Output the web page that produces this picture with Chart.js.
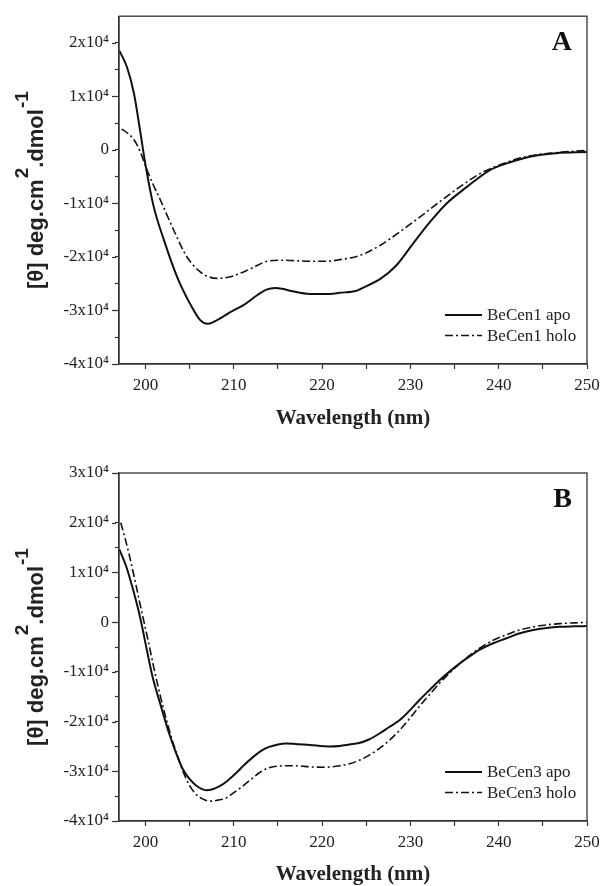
<!DOCTYPE html>
<html>
<head>
<meta charset="utf-8">
<script src="https://cdn.jsdelivr.net/npm/chart.js@4.4.0/dist/chart.umd.min.js"></script>
<style>
html, body { margin: 0; padding: 0; background: #fff; }
#wrap { position: relative; width: 603px; height: 886px; overflow: hidden; }
.panel { position: absolute; left: 0; width: 603px; }
</style>
</head>
<body>
<div id="wrap">
  <div class="panel" style="top:0"><canvas id="chartA" width="603" height="440"></canvas></div>
  <div class="panel" style="top:440px"><canvas id="chartB" width="603" height="456"></canvas></div>
</div>
<script>
// panel A - BeCen1
var wlApoA = [197.05,197.9,198.7,199.4,200.0,200.9,202.1,203.6,205.1,206.2,207.0,208.1,209.6,211.1,212.6,213.7,214.7,215.6,216.4,218.6,220.9,222.0,223.9,225.2,226.6,228.4,230.3,232.2,234.1,236.4,239.0,240.9,243.5,246.5,250.0];
var apoA = [18500,15500,10500,3500,-2800,-10400,-16900,-23800,-28900,-31800,-32500,-31800,-30300,-29000,-27200,-26100,-25800,-26000,-26300,-26900,-26900,-26700,-26300,-25300,-24100,-21600,-17500,-13500,-10000,-6900,-3750,-2500,-1250,-600,-400];
var wlHoloA = [197.3,198.0,198.7,199.4,200.0,200.8,201.7,203.2,204.7,206.2,207.0,208.1,209.0,210.0,211.9,213.8,215.6,218.6,220.5,222.0,224.3,226.6,228.8,231.1,233.3,235.6,237.9,240.1,243.1,246.5,250.0];
var holoA = [3900,3100,1900,-300,-3000,-6200,-9400,-15000,-20000,-22800,-23600,-24000,-23900,-23500,-22200,-20800,-20600,-20800,-20800,-20500,-19700,-17800,-15300,-12500,-9700,-6900,-4400,-2800,-1250,-500,-100];

// panel B - BeCen3
var wlApoB = [197.05,197.8,198.6,199.4,200.2,200.8,201.6,202.7,203.5,204.2,205.0,205.7,206.4,206.9,207.6,208.4,209.3,210.3,211.2,212.2,213.1,214.0,215.0,215.9,217.0,218.6,220.8,222.0,223.1,224.2,225.3,226.5,227.6,228.8,229.9,231.0,232.2,233.3,234.4,235.6,236.7,237.8,239.3,240.8,242.3,243.9,245.4,246.9,248.5,250.0];
var apoB = [14600,11300,6500,900,-6000,-11000,-16000,-22500,-26500,-29500,-31600,-32800,-33600,-33800,-33600,-33000,-31900,-30300,-28700,-27100,-25900,-25100,-24600,-24400,-24500,-24700,-25000,-24900,-24600,-24300,-23600,-22400,-21100,-19700,-17800,-15700,-13600,-11700,-10000,-8300,-6900,-5600,-4300,-3300,-2300,-1600,-1200,-950,-850,-800];
var wlHoloB = [197.2,197.7,198.2,198.8,199.3,199.8,200.3,200.9,201.5,202.2,202.9,203.6,204.2,205.0,205.7,206.5,207.4,208.2,209.1,210.0,211.0,211.9,212.9,213.8,214.8,216.0,217.1,218.6,220.1,221.2,222.0,223.1,224.2,225.3,226.5,227.6,228.8,229.9,231.0,232.2,233.3,234.4,235.6,236.7,237.8,239.3,240.8,242.3,243.9,245.4,246.9,248.5,250.0];
var holoB = [20000,16800,13200,8500,4300,300,-3700,-8800,-13500,-18500,-23000,-26800,-29800,-32900,-34600,-35600,-36000,-35800,-35400,-34300,-33000,-31700,-30300,-29400,-29000,-28900,-28900,-29100,-29200,-29100,-28900,-28500,-27800,-26800,-25400,-23800,-21700,-19400,-17000,-14500,-12300,-10300,-8300,-6700,-5300,-3700,-2600,-1600,-950,-550,-300,-150,-50];

var seriesLabels = ['BeCen1 apo', 'BeCen1 holo', 'BeCen3 apo', 'BeCen3 holo'];
var panelLetters = ['A', 'B'];
var xTickValues = [200, 210, 220, 230, 240, 250];
var yTickValues = [30000, 20000, 10000, 0, -10000, -20000, -30000, -40000];
var yTickLabels = ['3x10\u2074', '2x10\u2074', '1x10\u2074', '0', '-1x10\u2074', '-2x10\u2074', '-3x10\u2074', '-4x10\u2074'];
var yTitleParts = ['[\u03b8] deg.cm', '2', '.dmol', '-1'];
var xTitle = 'Wavelength (nm)';

var SERIF = '"Liberation Serif", "Times New Roman", serif';
var SANS = '"Liberation Sans", Arial, sans-serif';

function pts(xs, ys) {
  return xs.map(function (x, i) { return { x: x, y: ys[i] }; });
}

// frame, panel letter, legend, y title, longer major y ticks
var decor = {
  id: 'decor',
  afterDraw: function (chart, args, opts) {
    var ctx = chart.ctx, a = chart.chartArea;
    ctx.save();
    ctx.strokeStyle = '#333';
    ctx.lineWidth = 1.3;
    ctx.strokeRect(a.left, a.top, a.right - a.left, a.bottom - a.top);

    // major y ticks a bit longer
    var ys = chart.scales.y;
    ctx.lineWidth = 1.2;
    ys.ticks.forEach(function (t) {
      if (t.value % 10000 === 0) {
        var py = Math.round(ys.getPixelForValue(t.value)) + 0.5;
        ctx.beginPath();
        ctx.moveTo(a.left - 7, py);
        ctx.lineTo(a.left - 3, py);
        ctx.stroke();
      }
    });

    // panel letter
    ctx.fillStyle = '#111';
    ctx.font = 'bold 28px ' + SERIF;
    ctx.textAlign = 'right';
    ctx.textBaseline = 'alphabetic';
    ctx.fillText(opts.letter, a.right - 15, a.top + 34);

    // legend
    ctx.font = '17px ' + SERIF;
    ctx.textAlign = 'left';
    ctx.textBaseline = 'middle';
    chart.data.datasets.forEach(function (d, i) {
      var y = a.bottom - 49 + i * 20.5;
      ctx.strokeStyle = d.borderColor;
      ctx.lineWidth = d.borderWidth;
      ctx.setLineDash(d.borderDash || []);
      ctx.beginPath();
      ctx.moveTo(a.right - 142, y);
      ctx.lineTo(a.right - 105, y);
      ctx.stroke();
      ctx.setLineDash([]);
      ctx.fillStyle = '#222';
      ctx.fillText(d.label, a.right - 100, y + 1);
    });

    // y title with raised superscripts
    var big = 'bold 22px ' + SANS, small = 'bold 19px ' + SANS;
    ctx.font = big;
    var w0 = ctx.measureText(yTitleParts[0]).width;
    var w2 = ctx.measureText(yTitleParts[2]).width;
    ctx.font = small;
    var w1 = ctx.measureText(yTitleParts[1]).width;
    var w3 = ctx.measureText(yTitleParts[3]).width;
    var total = w0 + w1 + w2 + w3 + 2;
    ctx.translate(43, (a.top + a.bottom) / 2);
    ctx.rotate(-Math.PI / 2);
    ctx.fillStyle = '#222';
    ctx.textAlign = 'left';
    ctx.textBaseline = 'alphabetic';
    var x = -total / 2;
    ctx.font = big; ctx.fillText(yTitleParts[0], x, 0); x += w0 + 1;
    ctx.font = small; ctx.fillText(yTitleParts[1], x, -15); x += w1;
    ctx.font = big; ctx.fillText(yTitleParts[2], x, 0); x += w2 + 1;
    ctx.font = small; ctx.fillText(yTitleParts[3], x, -15);
    ctx.restore();
  }
};

function makeChart(id, letter, yMax, plotTop, plotBottom, labels, sets) {
  var canvas = document.getElementById(id);
  var H = canvas.height;
  return new Chart(canvas.getContext('2d'), {
    type: 'line',
    data: {
      datasets: [
        { label: labels[0], data: pts(sets[0], sets[1]), borderColor: '#111', borderWidth: 2,
          pointRadius: 0, cubicInterpolationMode: 'monotone', fill: false },
        { label: labels[1], data: pts(sets[2], sets[3]), borderColor: '#111', borderWidth: 1.6,
          borderDash: [8, 3, 2, 3], pointRadius: 0, cubicInterpolationMode: 'monotone', fill: false }
      ]
    },
    options: {
      responsive: false,
      animation: false,
      layout: { padding: { left: 0, right: 16, top: plotTop, bottom: 0 } },
      plugins: { legend: { display: false }, tooltip: { enabled: false }, decor: { letter: letter } },
      scales: {
        x: {
          type: 'linear', min: 197, max: 250,
          ticks: {
            stepSize: 5, includeBounds: false, autoSkip: false, maxRotation: 0, padding: 3,
            color: '#222', font: { family: SERIF, size: 17, lineHeight: 1.55 },
            callback: function (v) { return xTickValues.indexOf(v) >= 0 ? String(v) : ''; }
          },
          grid: { drawOnChartArea: false, tickLength: 5, color: '#333', tickWidth: 1.2 },
          border: { display: true, color: '#333', width: 1.3 },
          title: { display: true, text: xTitle, color: '#222',
            font: { family: SERIF, size: 21, weight: 'bold' }, padding: { top: 0, bottom: 9 } },
          afterFit: function (s) { s.height = H - plotBottom; }
        },
        y: {
          type: 'linear', min: -40000, max: yMax,
          ticks: {
            stepSize: 5000, includeBounds: false, autoSkip: false, padding: 6,
            color: '#222', font: { family: SERIF, size: 17 },
            callback: function (v) { var i = yTickValues.indexOf(v); return i >= 0 ? yTickLabels[i] : ''; }
          },
          grid: { drawOnChartArea: false, tickLength: 4, color: function (c) {
              return (c.tick && c.tick.value === 25000) ? 'rgba(0,0,0,0)' : '#333'; }, tickWidth: 1.2 },
          border: { display: true, color: '#333', width: 1.3 },
          afterFit: function (s) { s.width = 119; }
        }
      }
    },
    plugins: [decor]
  });
}

makeChart('chartA', panelLetters[0], 25000, 15, 364, seriesLabels.slice(0, 2), [wlApoA, apoA, wlHoloA, holoA]);
makeChart('chartB', panelLetters[1], 30000, 33, 381, seriesLabels.slice(2, 4), [wlApoB, apoB, wlHoloB, holoB]);
</script>
</body>
</html>
